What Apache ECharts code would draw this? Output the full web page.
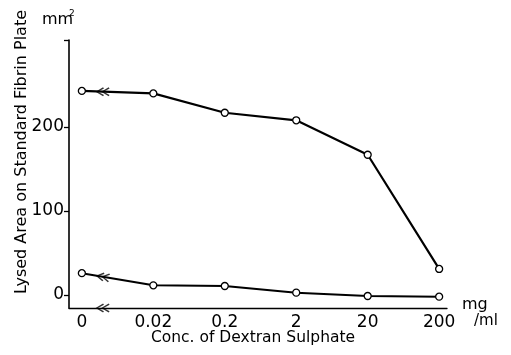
<!DOCTYPE html>
<html>
<head>
<meta charset="utf-8">
<script src="https://cdn.jsdelivr.net/npm/echarts@6/dist/echarts.min.js"></script>
<style>
  html, body { margin: 0; padding: 0; background: #fff; }
  #chart { width: 511px; height: 355px; }
</style>
</head>
<body>
<div id="chart"></div>
<script>
// concentrations (mg/ml), drawn at equal spacing
const categories = ['0', '0.02', '0.2', '2', '20', '200'];
const upperValues = [243, 240, 217, 208, 167, 31];
const lowerValues = [26, 11.5, 10.7, 2.8, -1.2, -2];
const yTicks = [0, 100, 200];

// "<<" break marks (x in category index units)
const arrowX = [0.29, 0.29, 0.29];
const arrowY = [242, 21.6, -15.5];
const arrowRotate = [0, -9.6, 0];

const FONT = 'DejaVu Sans';
const chevrons = 'path://M0 5L8 0L9 1.4L2.6 5L9 8.6L8 10ZM6 5L14 0L15 1.4L8.6 5L15 8.6L14 10Z';

const toPairs = vals => vals.map((v, i) => [i, v]);

const myChart = echarts.init(document.getElementById('chart'));
myChart.setOption({
  animation: false,
  grid: { left: 69, right: 64, top: 40, bottom: 47 },
  xAxis: {
    type: 'value',
    min: -0.18,
    max: 5.11,
    splitLine: { show: false },
    axisLine: { onZero: false, lineStyle: { color: '#000', width: 1.3 } },
    axisTick: { show: false },
    axisLabel: {
      customValues: [0, 1, 2, 3, 4, 5],
      formatter: v => categories[Math.round(v)],
      color: '#000',
      fontFamily: FONT,
      fontSize: 17,
      margin: 6
    }
  },
  yAxis: {
    type: 'value',
    min: -15.5,
    max: 303.6,
    splitLine: { show: false },
    axisLine: { show: true, onZero: false, lineStyle: { color: '#000', width: 1.6 } },
    axisTick: {
      show: true,
      customValues: [0, 100, 200, 303.6],
      length: 5,
      lineStyle: { color: '#000', width: 1.3 }
    },
    axisLabel: {
      customValues: yTicks,
      color: '#000',
      fontFamily: FONT,
      fontSize: 17,
      margin: 5
    }
  },
  series: [
    {
      type: 'line',
      data: toPairs(upperValues),
      symbol: 'circle',
      symbolSize: 7,
      lineStyle: { color: '#000', width: 2.2 },
      itemStyle: { color: '#fff', borderColor: '#000', borderWidth: 1.3 }
    },
    {
      type: 'line',
      data: toPairs(lowerValues),
      symbol: 'circle',
      symbolSize: 7,
      lineStyle: { color: '#000', width: 2 },
      itemStyle: { color: '#fff', borderColor: '#000', borderWidth: 1.3 }
    },
    {
      type: 'scatter',
      clip: false,
      symbol: chevrons,
      symbolSize: [14, 9],
      itemStyle: { color: '#000' },
      data: arrowX.map((x, i) => ({ value: [x, arrowY[i]], symbolRotate: arrowRotate[i] })),
      z: 5
    }
  ],
  graphic: [
    {
      type: 'text',
      x: 22,
      y: 152,
      rotation: Math.PI / 2,
      style: {
        text: 'Lysed Area on Standard Fibrin Plate',
        fill: '#000',
        font: '16px "DejaVu Sans"',
        align: 'center',
        verticalAlign: 'middle'
      }
    },
    {
      type: 'text',
      x: 42,
      y: 28,
      style: { text: 'mm', fill: '#000', font: '16px "DejaVu Sans"', verticalAlign: 'bottom' }
    },
    {
      type: 'text',
      x: 69,
      y: 18,
      style: { text: '2', fill: '#000', font: '9px "DejaVu Sans"', verticalAlign: 'bottom' }
    },
    {
      type: 'text',
      x: 462,
      y: 313,
      style: { text: 'mg', fill: '#000', font: '16px "DejaVu Sans"', verticalAlign: 'bottom' }
    },
    {
      type: 'text',
      x: 474,
      y: 329,
      style: { text: '/ml', fill: '#000', font: '15px "DejaVu Sans"', verticalAlign: 'bottom' }
    },
    {
      type: 'text',
      x: 253,
      y: 338,
      style: {
        text: 'Conc. of Dextran Sulphate',
        fill: '#000',
        font: '15.5px "DejaVu Sans"',
        align: 'center',
        verticalAlign: 'middle'
      }
    }
  ]
});

window.addEventListener('resize', () => { myChart.resize(); });
</script>
</body>
</html>
